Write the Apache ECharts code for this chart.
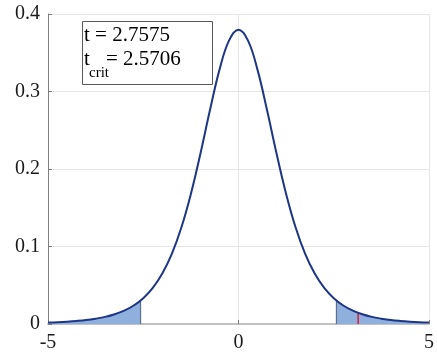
<!DOCTYPE html>
<html>
<head>
<meta charset="utf-8">
<script src="https://cdn.jsdelivr.net/npm/echarts@6/dist/echarts.min.js"></script>
<style>
  html, body { margin: 0; padding: 0; background: #fff; }
  #tdist_chart { width: 437px; height: 356px; }
</style>
</head>
<body>
<div id="tdist_chart"></div>
<script>
// t distribution (df = 5)
var xValues = [-5, -4.75, -4.5, -4.25, -4, -3.75, -3.5, -3.25, -3, -2.75, -2.5, -2.25, -2, -1.75, -1.5, -1.25, -1, -0.75, -0.5, -0.25,
  0, 0.25, 0.5, 0.75, 1, 1.25, 1.5, 1.75, 2, 2.25, 2.5, 2.75, 3, 3.25, 3.5, 3.75, 4, 4.25, 4.5, 4.75, 5];
var density = [0.0018, 0.0023, 0.0030, 0.0039, 0.0051, 0.0069, 0.0092, 0.0126, 0.0173, 0.0239, 0.0333, 0.0466, 0.0651, 0.0905, 0.1245, 0.1679, 0.2197, 0.2757, 0.3279, 0.3657,
  0.3796, 0.3657, 0.3279, 0.2757, 0.2197, 0.1679, 0.1245, 0.0905, 0.0651, 0.0466, 0.0333, 0.0239, 0.0173, 0.0126, 0.0092, 0.0069, 0.0051, 0.0039, 0.0030, 0.0023, 0.0018];
var tCrit = 2.5706;
var critDensity = 0.0303;
var tStatPos = 3.14;
var tStatDensity = 0.0145;
var xTicks = [-5, 0, 5];
var yTicks = [0, 0.1, 0.2, 0.3, 0.4];

var labelFont = 'Liberation Serif';

//曲线数据
var curve = xValues.map(function (x, i) { return [x, density[i]]; });
var leftTail = curve.filter(function (p) { return p[0] < -tCrit; }).concat([[-tCrit, critDensity]]);
var rightTail = [[tCrit, critDensity]].concat(curve.filter(function (p) { return p[0] > tCrit; }));

var tdist_chart = echarts.init(document.getElementById('tdist_chart'));

var option = {
  animation: false,
  grid: { left: 48, right: 7, top: 14, bottom: 32 },
  xAxis: {
    type: 'value',
    min: xTicks[0],
    max: xTicks[xTicks.length - 1],
    interval: xTicks[1] - xTicks[0],
    axisLine: { show: true, onZero: false, lineStyle: { color: '#c2c2c2', width: 2 } },
    axisTick: { show: true, inside: true, length: 4, lineStyle: { color: '#7a7a7a' } },
    axisLabel: { color: '#1a1a1a', fontFamily: labelFont, fontSize: 20, margin: 9 },
    splitLine: { show: true, lineStyle: { color: '#e6e6e6', width: 1 } }
  },
  yAxis: {
    type: 'value',
    min: yTicks[0],
    max: yTicks[yTicks.length - 1],
    interval: yTicks[1] - yTicks[0],
    axisLine: { show: true, onZero: false, lineStyle: { color: '#808080', width: 1 } },
    axisTick: { show: true, inside: true, length: 4, lineStyle: { color: '#7a7a7a' } },
    axisLabel: { color: '#1a1a1a', fontFamily: labelFont, fontSize: 20, margin: 8 },
    splitLine: { show: true, lineStyle: { color: '#e6e6e6', width: 1 } }
  },
  series: [
    {
      type: 'line', data: leftTail, smooth: 0.4, symbol: 'none',
      lineStyle: { width: 0 }, areaStyle: { color: '#8fafdd', opacity: 1 }, z: 2
    },
    {
      type: 'line', data: rightTail, smooth: 0.4, symbol: 'none',
      lineStyle: { width: 0 }, areaStyle: { color: '#8fafdd', opacity: 1 }, z: 2
    },
    {
      type: 'line', data: [[-tCrit, 0], [-tCrit, critDensity]], symbol: 'none',
      lineStyle: { color: '#5f6f8a', width: 1.2 }, z: 3
    },
    {
      type: 'line', data: [[tCrit, 0], [tCrit, critDensity]], symbol: 'none',
      lineStyle: { color: '#5f6f8a', width: 1.2 }, z: 3
    },
    {
      type: 'line', data: [[tStatPos, 0], [tStatPos, tStatDensity]], symbol: 'none',
      lineStyle: { color: '#d8203a', width: 1.5 }, z: 4
    },
    {
      type: 'line', data: curve, smooth: 0.4, symbol: 'none',
      lineStyle: { color: '#1d3686', width: 2 }, z: 5
    }
  ],
  graphic: [
    {
      type: 'rect', left: 82, top: 21,
      shape: { width: 130, height: 63 },
      style: { fill: '#fff', stroke: '#5a5a5a', lineWidth: 1 }, z: 10
    },
    {
      type: 'text', x: 84, y: 35,
      style: { text: 't = 2.7575', fontSize: 21, fontFamily: labelFont, fill: '#000', verticalAlign: 'middle' }, z: 11
    },
    {
      type: 'text', x: 84, y: 59,
      style: { text: 't', fontSize: 21, fontFamily: labelFont, fill: '#000', verticalAlign: 'middle' }, z: 11
    },
    {
      type: 'text', x: 89, y: 73,
      style: { text: 'crit', fontSize: 15, fontFamily: labelFont, fill: '#000', verticalAlign: 'middle' }, z: 11
    },
    {
      type: 'text', x: 106, y: 59,
      style: { text: '= 2.5706', fontSize: 21, fontFamily: labelFont, fill: '#000', verticalAlign: 'middle' }, z: 11
    }
  ]
};

tdist_chart.setOption(option);
window.addEventListener('resize', function () {
  tdist_chart.resize();
});
</script>
</body>
</html>
